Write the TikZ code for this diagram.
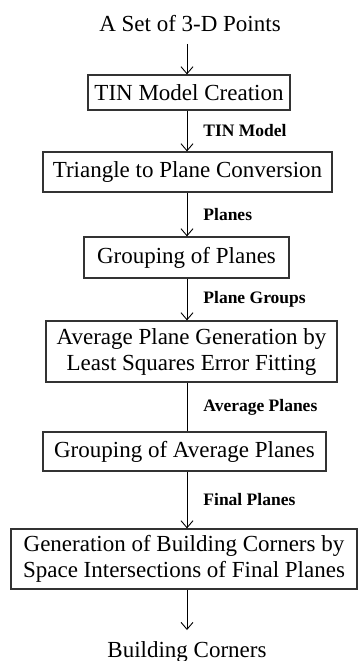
\documentclass[tikz,border=0pt]{standalone}
\usepackage{fontspec}
\setmainfont{Liberation Serif}
\usetikzlibrary{arrows.meta,positioning}
\tikzset{
  box/.style={draw=black!80,line width=1.2pt,font=\fontsize{23}{26}\selectfont,
              align=center,inner sep=0pt},
  hdr/.style={font=\fontsize{23}{26}\selectfont,text height=15pt,text depth=0pt,
              inner xsep=0pt,inner ysep=12pt},
  ar/.style ={-{Straight Barb[length=7pt,width=12pt]},line width=.9pt},
  ln/.style ={line width=.9pt},
  lbl/.style={font=\fontsize{17.5}{20}\selectfont\bfseries,right=13pt,inner sep=3pt},
}
\begin{document}
\begin{tikzpicture}[x=1pt,y=-1pt]
  \useasboundingbox (0,0) rectangle (358,661);
  \coordinate (spine) at (187,0);
  \node[hdr,anchor=south] (pts) at (190,44) {A Set of 3-D Points};
  \node[box,minimum width=202pt,minimum height=35pt] (b1) at (189,92.5) {TIN Model Creation};
  \node[box,minimum width=289pt,minimum height=40pt] (b2) at (187.5,172) {Triangle to Plane Conversion};
  \node[box,minimum width=205pt,minimum height=41pt] (b3) at (186.5,257.5) {Grouping of Planes};
  \node[box,minimum width=291pt,minimum height=61pt] (b4) at (191.5,351.5)
    {Average Plane Generation by\\Least Squares Error Fitting};
  \node[box,minimum width=283pt,minimum height=39pt] (b5) at (184.5,451.5) {Grouping of Average Planes};
  \node[box,minimum width=346pt,minimum height=60pt] (b6) at (184,559)
    {Generation of Building Corners by\\Space Intersections of Final Planes};
  \node[hdr,anchor=north] (bc) at (187,630) {Building Corners};
  % flow
  \draw[ar] (pts.south -| spine) -- (b1.north -| spine);
  \draw[ar] (b1.south -| spine) -- node[lbl]{TIN Model} (b2.north -| spine);
  \draw[ar] (b2.south -| spine) -- node[lbl]{Planes} (b3.north -| spine);
  \draw[ar] (b3.south -| spine) -- node[lbl]{Plane Groups} (b4.north -| spine);
  \draw[ln] (b4.south -| spine) -- node[lbl]{Average Planes} (b5.north -| spine);
  \draw[ar] (b5.south -| spine) -- node[lbl]{Final Planes} (b6.north -| spine);
  \draw[ar] (b6.south -| spine) -- (bc.north -| spine);
\end{tikzpicture}
\end{document}
